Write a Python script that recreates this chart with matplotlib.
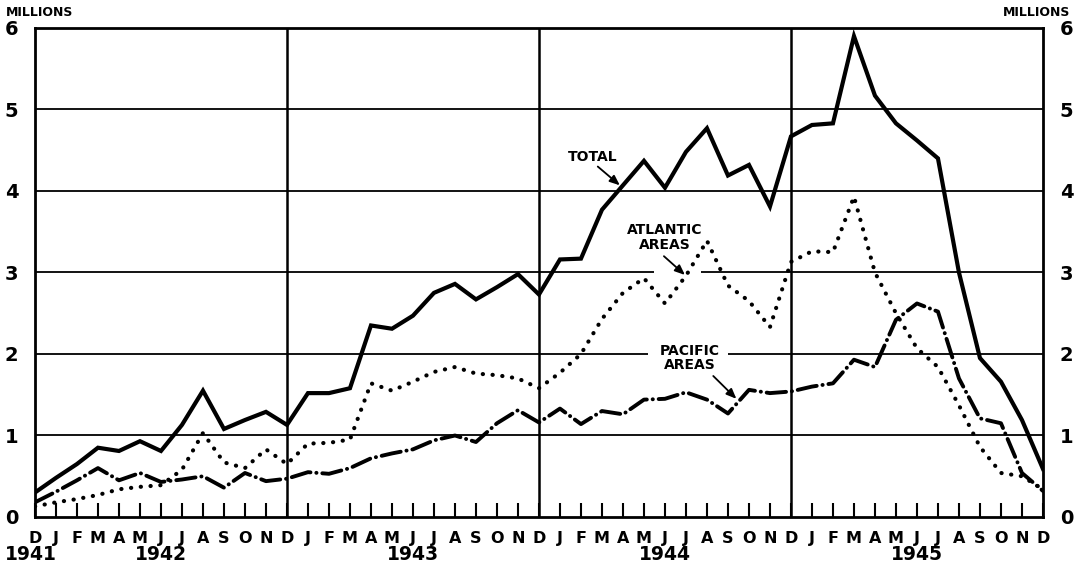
import matplotlib
matplotlib.use("Agg")
import matplotlib.pyplot as plt
from matplotlib.patches import Rectangle
import matplotlib.transforms as mtransforms

# ---- data (millions), monthly Dec 1941 .. Dec 1945 ----
month_labels = ["D", "J", "F", "M", "A", "M", "J", "J", "A", "S", "O", "N"] * 4 + ["D"]
years = ["1941", "1942", "1943", "1944", "1945"]

total = [0.30, 0.48, 0.65, 0.85, 0.81, 0.93, 0.81, 1.13, 1.55, 1.08, 1.19, 1.29,
         1.13, 1.52, 1.52, 1.58, 2.35, 2.31, 2.47, 2.75, 2.86, 2.67, 2.82, 2.98,
         2.73, 3.16, 3.17, 3.77, 4.07, 4.37, 4.04, 4.48, 4.77, 4.19, 4.32, 3.81,
         4.67, 4.81, 4.83, 5.90, 5.17, 4.83, 4.62, 4.40, 3.00, 1.95, 1.66, 1.19,
         0.59]
atlantic = [0.13, 0.18, 0.22, 0.27, 0.34, 0.37, 0.39, 0.58, 1.03, 0.67, 0.60, 0.83,
            0.65, 0.90, 0.91, 0.95, 1.64, 1.55, 1.66, 1.78, 1.84, 1.76, 1.74, 1.70,
            1.58, 1.77, 2.00, 2.43, 2.75, 2.93, 2.62, 2.96, 3.39, 2.84, 2.65, 2.33,
            3.13, 3.26, 3.25, 3.93, 3.00, 2.50, 2.07, 1.84, 1.37, 0.86, 0.54, 0.50,
            0.34]
pacific = [0.18, 0.31, 0.45, 0.60, 0.45, 0.54, 0.43, 0.46, 0.50, 0.36, 0.54, 0.44,
           0.47, 0.55, 0.53, 0.60, 0.72, 0.78, 0.83, 0.94, 1.00, 0.92, 1.15, 1.31,
           1.16, 1.33, 1.14, 1.30, 1.26, 1.44, 1.45, 1.53, 1.44, 1.27, 1.56, 1.52,
           1.54, 1.60, 1.64, 1.93, 1.84, 2.42, 2.62, 2.52, 1.70, 1.21, 1.15, 0.54,
           0.32]
yticks = [0, 1, 2, 3, 4, 5, 6]

x = list(range(len(total)))

plt.rcParams['font.family'] = ['DejaVu Sans']
plt.rcParams['font.weight'] = 'bold'

fig = plt.figure(figsize=(10.76, 5.69), dpi=100)
ax = fig.add_axes([0.0325, 0.0914, 0.9368, 0.8594])
ax.set_xlim(0, len(total) - 1)
ax.set_ylim(0, 6)

# grid
for yv in yticks[1:-1]:
    ax.axhline(yv, color='black', lw=1.3, zorder=1)
for xv in (12, 24, 36):
    ax.axvline(xv, color='black', lw=1.8, zorder=1)

# white gaps in grid lines behind annotations
ax.add_patch(Rectangle((29.5, 2.93), 2.2, 0.14, facecolor='white', edgecolor='none', zorder=1.5))
ax.add_patch(Rectangle((29.2, 1.93), 3.8, 0.14, facecolor='white', edgecolor='none', zorder=1.5))

ax.plot(x, total, color='black', lw=3.0, solid_joinstyle='miter', zorder=3)
ax.plot(x, atlantic, color='black', lw=3.0, linestyle=(0, (0.05, 2.3)),
        dash_capstyle='round', zorder=3)
ax.plot(x, pacific, color='black', lw=2.8, linestyle=(0, (5.0, 1.5, 0.05, 1.5)),
        dash_capstyle='round', zorder=3)

for s in ax.spines.values():
    s.set_linewidth(2.0)

ax.set_yticks(yticks)
ax.set_yticklabels([str(v) for v in yticks])
ax.tick_params(axis='y', length=0, labelsize=14, labelleft=True, labelright=True, pad=12)
ax.set_xticks(x)
ax.set_xticklabels(month_labels)
ax.tick_params(axis='x', direction='in', length=10, width=1.5, labelsize=11.5, pad=10)

for t in ax.get_xticklabels() + ax.get_yticklabels():
    t.set_fontweight('bold')

# year labels
trans = mtransforms.blended_transform_factory(ax.transData, ax.transAxes)
year_pos = [-0.2, 6, 18, 30, 42]
for yl, xp in zip(years, year_pos):
    ax.text(xp, -0.076, yl, transform=trans, ha='center', va='center',
            fontsize=13.5, fontweight='bold')

fig.text(0.005, 0.978, "MILLIONS", ha='left', va='center', fontsize=9, fontweight='bold')
fig.text(0.995, 0.978, "MILLIONS", ha='right', va='center', fontsize=9, fontweight='bold')

# annotations
arrow = dict(arrowstyle='-|>,head_length=0.6,head_width=0.25', color='black', lw=1.3,
             shrinkA=0, shrinkB=0)
ax.text(26.55, 4.42, "TOTAL", ha='center', va='center', fontsize=10, fontweight='bold', zorder=4)
ax.annotate("", xy=(27.85, 4.07), xytext=(26.8, 4.3), arrowprops=arrow, zorder=4)

ax.text(30.0, 3.43, "ATLANTIC\nAREAS", ha='center', va='center', fontsize=10,
        fontweight='bold', linespacing=1.05, zorder=4)
ax.annotate("", xy=(30.95, 2.97), xytext=(29.95, 3.2), arrowprops=arrow, zorder=4)

ax.text(31.2, 1.95, "PACIFIC\nAREAS", ha='center', va='center', fontsize=10,
        fontweight='bold', linespacing=1.05, zorder=4)
ax.annotate("", xy=(33.4, 1.45), xytext=(32.3, 1.73), arrowprops=arrow, zorder=4)

fig.savefig("out.png", dpi=100)
